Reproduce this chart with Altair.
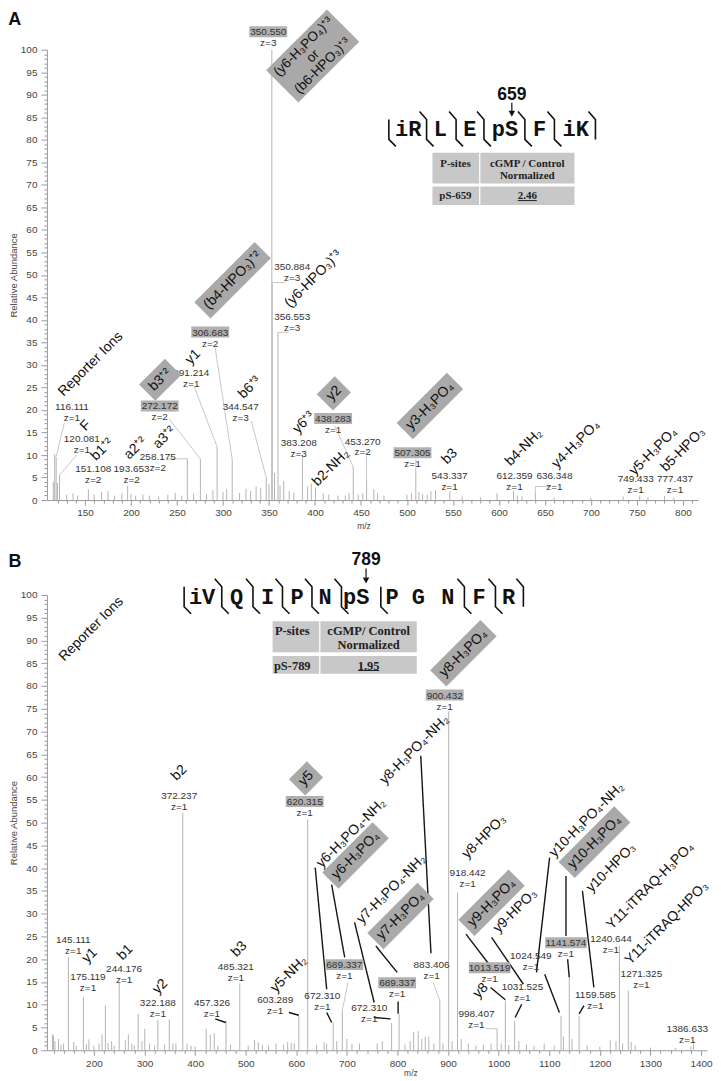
import altair as alt
import pandas as pd

SANS = "Liberation Sans, Arial, Helvetica, sans-serif"
MONO = "Liberation Mono, Courier New, monospace"
SERIF = "Liberation Serif, Times New Roman, serif"
TXT = "#333333"
PEAK = "#b4b4b4"
BOX = "#a9a9a9"
HL = "#b0b0b0"
CELL = "#c8c8c8"
ION_FS = 14
MULTI_FS = 13.5

# ======================= Panel A : iR L E pS F iK =======================
a_domain = [114, 811]
a_peak_mz = [115.5, 117.0, 118.6, 120.0, 122.2, 153.6, 196.3, 261.2, 275.4, 293.6,
             310.0, 347.0, 353.1, 353.45, 359.8, 386.3, 400.5, 441.6, 456.1, 509.6,
             546.6, 615.8, 639.6, 753.0, 780.0]
a_peak_ab = [4.0, 10.2, 9.6, 3.8, 5.6, 2.4, 3.2, 9.2, 9.1, 11.8,
             9.0, 5.0, 100.0, 48.0, 37.2, 10.0, 2.8, 7.3, 4.3, 7.0,
             2.0, 2.0, 1.6, 1.0, 0.9]
a_minor_mz = [130, 137, 142, 160, 168, 175, 182, 190, 200, 205, 213, 220, 230, 240, 248, 255, 268, 282, 289, 300,
              304, 318, 325, 330, 336, 341, 350, 356, 362, 366, 372, 377, 392, 396, 409, 415, 425, 433, 437, 447,
              452, 464, 468, 475, 500, 505, 513, 517, 522, 526, 531, 560, 580, 598, 620, 625, 660, 700, 735, 762, 790]
a_minor_ab = [1.2, 1.5, 1.0, 1.2, 1.8, 2.0, 1.0, 1.5, 1.4, 1.0, 1.2, 1.0, 0.8, 1.2, 1.6, 1.0, 1.5, 1.3, 2.2, 1.8,
              2.4, 1.6, 2.5, 2.0, 3.0, 2.6, 3.5, 6.0, 3.2, 4.2, 2.0, 1.6, 3.0, 3.6, 1.4, 1.2, 1.0, 1.0, 1.6, 1.2,
              1.5, 2.4, 1.6, 1.0, 1.2, 1.5, 1.8, 1.4, 1.2, 2.0, 2.2, 0.8, 0.6, 1.5, 1.0, 0.8, 0.5, 0.5, 0.8, 0.6, 0.5]

a_lbl_val = ["116.111", "120.081", "151.108", "193.653", "258.175", "272.172", "291.214", "306.683",
             "344.547", "350.550", "350.884", "356.553", "383.208", "438.283", "453.270", "507.305",
             "543.337", "612.359", "636.348", "749.433", "777.437"]
a_lbl_z = ["z=1", "z=1", "z=2", "z=2", "z=2", "z=2", "z=1", "z=2", "z=3", "z=3", "z=3", "z=3", "z=3",
           "z=1", "z=2", "z=1", "z=1", "z=1", "z=1", "z=1", "z=1"]
a_lbl_mz = [135.8, 146.5, 158.9, 200.6, 229.1, 231.2, 265.5, 286.1, 319.2, 349.2, 375.2, 375.2, 382.3,
            419.7, 451.8, 506.0, 546.3, 616.9, 660.3, 748.7, 791.4]
a_lbl_ab = [20.7, 13.5, 6.9, 6.9, 9.5, 20.8, 28.2, 37.2, 20.6, 103.9, 51.8, 40.7, 12.6,
            18.0, 13.0, 10.4, 5.4, 5.4, 5.4, 4.6, 4.6]
a_lbl_hl = [0, 0, 0, 0, 0, 1, 0, 1, 0, 1, 0, 0, 0, 1, 0, 1, 0, 0, 0, 0, 0]

a_ion_txt = ["Reporter Ions", "F", "b1⁺²", "a2⁺²", "a3⁺²", "b3⁺²", "y1", "(b4-HPO₃)⁺²", "b6⁺³",
             "(y6-HPO₃)⁺³", "y6⁺³", "y2", "b2-NH₂", "y3-H₃PO₄", "b3", "b4-NH₂", "y4-H₃PO₄",
             "y5-H₃PO₄", "b5-HPO₃"]
a_ion_mz = [156.1, 150.7, 168.5, 204.8, 236.3, 231.6, 267.3, 310.4, 328.9, 398.0, 387.7, 420.5,
            417.3, 524.9, 546.3, 627.1, 683.5, 767.9, 800.0]
a_ion_ab = [30.2, 16.5, 11.2, 11.5, 13.9, 26.7, 31.8, 48.8, 25.0, 49.1, 17.2, 23.7,
            7.2, 20.9, 9.7, 11.7, 12.4, 10.8, 11.2]
a_ion_box = [0, 0, 0, 0, 0, 1, 0, 1, 0, 0, 0, 1, 0, 1, 0, 0, 0, 0, 0]
a_multi_txt = ["(y6-H₃PO₄)⁺³\nor\n(b6-HPO₃)⁺³"]
a_multi_mz = [397.5]
a_multi_ab = [98.6]

a_lg_mz1 = [127.5, 122.4, 239.8, 241.6, 268.3, 291.4, 330.7, 368.1, 371.6, 421.5, 456.1, 656.7, 639.6, 509.6]
a_lg_ab1 = [17.2, 5.6, 9.1, 18.0, 25.4, 33.9, 17.6, 48.3, 37.3, 16.5, 9.8, 3.0, 3.0, 9.0]
a_lg_mz2 = [118.8, 141.0, 261.2, 275.4, 293.6, 310.0, 347.0, 353.4, 359.8, 441.6, 456.1, 639.6, 639.6, 509.6]
a_lg_ab2 = [9.8, 10.0, 9.2, 9.1, 11.8, 9.0, 5.0, 48.3, 37.2, 7.3, 4.3, 3.0, 1.6, 7.0]

a_res = ["iR", "L", "E", "pS", "F", "iK"]
a_res_mz = [501.4, 536.3, 568.3, 606.5, 644.2, 683.5]
a_seq_ab = 82.3
a_sep_mz = [480.3, 521.3, 553.4, 583.7, 628.2, 660.3, 704.9]
a_sep_kind = ["first", "mid", "mid", "mid", "mid", "mid", "last"]
a_site = "659"
a_site_mz = 614.0
a_site_ab = 90.0
a_arrow_ab = [88.2, 85.1]

a_cell_x1 = [527.7, 579.8, 527.7, 579.8]
a_cell_x2 = [578.4, 682.1, 578.4, 682.1]
a_cell_y1 = [77.1, 77.1, 69.6, 69.6]
a_cell_y2 = [70.3, 70.3, 65.5, 65.5]
a_tab_txt = ["P-sites", "cGMP / Control", "Normalized", "pS-659", "2.46"]
a_tab_mz = [552.7, 630.8, 630.8, 552.7, 630.8]
a_tab_ab = [74.7, 74.7, 71.9, 67.6, 67.6]
a_uline = [620.5, 641.1, 66.5]

# ======================= Panel B : iV Q I P N pS P G N F R =======================
b_domain = [117, 1402]
b_peak_mz = [118, 120, 123, 149.5, 179.2, 222.7, 250.0, 268.0, 287.5, 300.5,
             326.4, 349.0, 375.6, 422.0, 437.8, 461.0, 488.3, 517.5, 605.0, 622.5,
             673.0, 691.0, 788.4, 803.3, 832, 841, 855, 883.7, 901.2, 918.7,
             997.0, 1013.3, 1031.5, 1123.4, 1139.6, 1159.0, 1220.6, 1238.7, 1256.3, 1385.0]
b_peak_ab = [3.5, 3.2, 2.0, 20.5, 11.6, 9.8, 15.0, 3.5, 8.0, 4.7,
             6.7, 6.8, 52.2, 4.7, 3.7, 6.5, 14.7, 2.3, 7.5, 50.7,
             6.1, 8.8, 6.0, 8.0, 4.0, 4.2, 3.0, 10.9, 74.4, 34.6,
             4.7, 10.9, 6.5, 7.6, 16.0, 7.6, 2.2, 22.9, 13.1, 1.5]
b_minor_mz = [130, 135, 140, 160, 165, 185, 190, 200, 210, 216,
              228, 235, 240, 262, 275, 280, 295, 310, 320, 340,
              356, 362, 384, 392, 400, 430, 445, 470, 505, 525,
              533, 545, 560, 575, 583, 590, 596, 640, 655, 660,
              680, 700, 710, 725, 760, 770, 815, 825, 848, 862,
              872, 890, 908, 926, 940, 955, 970, 985, 1005, 1020,
              1040, 1055, 1070, 1090, 1110, 1128, 1145, 1175, 1200, 1232,
              1245, 1262, 1270, 1300, 1350, 1380]
b_minor_ab = [2.5, 1.2, 1.5, 1.8, 1.0, 1.4, 2.4, 1.0, 1.5, 3.5,
              1.6, 2.0, 1.0, 2.2, 1.5, 1.0, 2.0, 1.5, 1.0, 1.3,
              1.5, 1.5, 1.5, 1.0, 0.8, 3.4, 1.0, 1.2, 1.0, 1.8,
              1.2, 1.0, 1.5, 1.2, 1.8, 1.6, 1.5, 1.2, 1.8, 1.5,
              2.0, 2.5, 1.4, 1.5, 1.5, 2.0, 1.3, 2.0, 2.5, 3.0,
              1.5, 1.5, 2.0, 2.5, 1.5, 1.0, 1.2, 1.5, 1.5, 1.2,
              2.0, 1.2, 1.0, 1.5, 1.0, 3.0, 2.5, 1.0, 0.8, 2.0,
              1.5, 1.8, 1.0, 0.6, 0.5, 0.8]

b_lbl_val = ["145.111", "175.119", "244.176", "322.188", "372.237", "457.326", "485.321", "603.289",
             "620.315", "672.310", "689.337", "672.310", "689.337", "883.406", "900.432", "918.442",
             "998.407", "1013.519", "1024.549", "1031.525", "1141.574", "1159.585", "1240.644",
             "1271.325", "1386.633"]
b_lbl_z = ["z=1"] * 25
b_lbl_mz = [159.2, 188.3, 259.7, 326.4, 368.5, 433.3, 480.5, 558.3, 616.6, 651.6, 695.0, 744.3, 799.4,
            867.4, 893.4, 938.7, 956.2, 982.1, 1063.7, 1047.0, 1133.1, 1191.4, 1222.0, 1282.2, 1372.8]
b_lbl_ab = [24.3, 16.0, 17.8, 10.3, 55.8, 10.3, 18.2, 11.0, 54.5, 12.0, 18.7, 9.3, 14.7,
            18.7, 77.9, 39.0, 8.0, 18.0, 20.6, 13.8, 23.5, 12.1, 24.5, 16.7, 4.7]
b_lbl_hl = [0, 0, 0, 0, 0, 0, 0, 0, 1, 0, 1, 0, 1, 0, 1, 0, 0, 1, 0, 0, 1, 0, 0, 0, 0]

b_ion_txt = ["Reporter Ions", "y1", "b1", "y2", "b2", "b3", "y5-NH₂", "y5", "y6-H₃PO₄-NH₂", "y6-H₃PO₄",
             "y7-H₃PO₄-NH₂", "y7-H₃PO₄", "y8-H₃PO₄-NH₂", "y8-H₃PO₄", "y8-HPO₃", "y8", "y9-H₃PO₄",
             "y9-HPO₃", "y10-H₃PO₄-NH₂", "y10-H₃PO₄", "y10-HPO₃", "Y11-iTRAQ-H₃PO₄", "Y11-iTRAQ-HPO₃"]
b_ion_mz = [194.8, 191.6, 261.6, 330.8, 368.5, 487.1, 585.5, 619.3, 708.4, 717.1, 788.1, 806.0, 833.4,
            930.3, 971.2, 964.6, 986.0, 1032.6, 1174.0, 1189.5, 1222.0, 1299.7, 1332.0]
b_ion_ab = [92.5, 20.8, 21.5, 14.0, 60.9, 22.2, 16.7, 59.7, 47.7, 42.8, 35.4, 29.5, 66.0,
            87.2, 46.9, 13.1, 32.4, 30.6, 50.6, 45.7, 40.1, 36.1, 27.9]
b_ion_box = [0, 0, 0, 0, 0, 0, 0, 1, 0, 1, 0, 1, 0, 1, 0, 0, 1, 0, 0, 1, 0, 0, 0]

b_lk_mz1 = [846.0, 637.4, 660.1, 669.9, 715.2, 754.0, 757.3, 801.3, 935.4, 984.0,
            986.0, 1045.6, 1100.7, 1091.0, 1133.1, 1136.4, 1165.6, 1159.0, 439.7, 585.5]
b_lk_ab1 = [64.7, 40.1, 8.3, 36.4, 28.1, 7.2, 22.9, 10.7, 25.5, 13.8,
            24.8, 10.1, 42.3, 16.7, 38.3, 20.0, 35.0, 8.0, 6.9, 8.3]
b_lk_mz2 = [866.2, 660.1, 670.0, 695.7, 754.0, 786.5, 799.4, 801.3, 980.9, 1013.2,
            1048.9, 1032.6, 1074.8, 1120.1, 1133.1, 1139.6, 1188.2, 1168.7, 460.5, 605.0]
b_lk_ab2 = [21.3, 13.4, 6.1, 20.4, 10.5, 6.9, 17.1, 8.0, 18.9, 11.1,
            14.5, 7.2, 17.1, 8.3, 25.1, 16.0, 13.8, 9.8, 6.1, 7.7]
b_lg_mz1 = [702.2, 870.7, 974.3]
b_lg_ab1 = [14.9, 14.9, 4.8]
b_lg_mz2 = [691.0, 883.7, 997.0]
b_lg_ab2 = [8.8, 10.9, 4.7]

b_res = ["iV", "Q", "I", "P", "N", "pS", "P", "G", "N", "F", "R"]
b_res_mz = [413.8, 481.9, 543.5, 601.8, 656.8, 718.5, 789.6, 841.5, 899.8, 961.5, 1019.8]
b_seq_ab = 99.6
b_sep_mz = [378.3, 452.7, 514.4, 572.7, 631.0, 689.3, 767.1, 932.3, 993.7, 1048.9]
b_sep_kind = ["first", "mid", "mid", "mid", "mid", "mid", "first", "mid", "mid", "last"]
b_site = "789"
b_site_mz = 737.9
b_site_ab = 107.7
b_arrow_ab = [105.8, 102.5]

b_cell_x1 = [553.2, 647.7, 553.2, 647.7]
b_cell_x2 = [645.2, 838.2, 645.2, 838.2]
b_cell_y1 = [94.2, 94.2, 86.6, 86.6]
b_cell_y2 = [87.4, 87.4, 82.7, 82.7]
b_tab_txt = ["P-sites", "cGMP/ Control", "Normalized", "pS-789", "1.95"]
b_tab_mz = [592.0, 743.0, 743.0, 592.0, 743.0]
b_tab_ab = [92.0, 92.0, 89.0, 84.4, 84.4]
b_uline = [722.0, 764.0, 83.4]

# ----------------------------------------------------------------------
SUBSUP = set("₀₁₂₃₄₅₆₇₈₉⁺⁰¹²³⁴⁵⁶⁷⁸⁹")


def tw(s, fs):
    w = 0.0
    for ch in s:
        if ch in SUBSUP:
            w += 0.40
        elif ch in "ijlI.":
            w += 0.24
        elif ch in "()-/ rtf":
            w += 0.31
        elif ch in "mMW":
            w += 0.86
        elif ch in "wGOQ":
            w += 0.76
        elif ch.isupper():
            w += 0.70
        else:
            w += 0.55
    return w * fs


def rect_path(w, h):
    return f"M{-w/2:.1f},{-h/2:.1f}L{w/2:.1f},{-h/2:.1f}L{w/2:.1f},{h/2:.1f}L{-w/2:.1f},{h/2:.1f}Z"


SEP = {"first": "M0,-10L0,10L7,17",
       "mid": "M-7,-18L0,-10L0,10L7,17",
       "last": "M-7,-18L0,-10L0,10"}


def panel(P):
    xs = alt.Scale(domain=P["domain"], nice=False, zero=False)
    ys = alt.Scale(domain=[0, 100], nice=False)
    xl = P["xlab"]
    x_axis = alt.Axis(
        title="m/z", values=P["xticks"], format="d",
        labelExpr=f"datum.value % {xl} === 0 ? datum.label : ''",
        tickSize={"condition": {"test": f"datum.value % {xl} === 0", "value": 5}, "value": 3},
        labelPadding=P["xlabpad"], titlePadding=P["xtitlepad"], titleX=P["titlex"],
        titleFontSize=8.5, labelFlush=False, labelOverlap=False, grid=False)
    y_axis = alt.Axis(
        title="Relative Abundance", values=list(range(0, 101)),
        labelExpr="datum.value % 5 === 0 ? datum.label : ''",
        tickSize={"condition": {"test": "datum.value % 5 === 0", "value": 6}, "value": 3},
        labelPadding=4, titlePadding=2, titleFontSize=9.5, labelOverlap=False, grid=False)

    def X(f="mz"):
        return alt.X(f + ":Q", scale=xs, axis=x_axis, title="m/z")

    def Y(f="ab"):
        return alt.Y(f + ":Q", scale=ys, axis=y_axis, title="Relative Abundance")

    def rules(m1, a1, m2, a2, color, width):
        df = pd.DataFrame({"mz": m1, "ab": a1, "mz2": m2, "ab2": a2})
        return alt.Chart(df).mark_rule(color=color, strokeWidth=width).encode(
            x=X(), y=Y(), x2=alt.X2("mz2"), y2=alt.Y2("ab2"))

    peaks = pd.DataFrame({"mz": P["peak_mz"] + P["minor_mz"], "ab": P["peak_ab"] + P["minor_ab"]})
    peaks["base"] = 0.0
    layers = [alt.Chart(peaks).mark_rule(color=PEAK, strokeWidth=1).encode(
        x=X(), y=Y(), y2=alt.Y2("base"))]

    # leader lines
    if P.get("lg"):
        layers.append(rules(*P["lg"], "#b9b9b9", 0.8))
    if P.get("lk"):
        layers.append(rules(*P["lk"], "#151515", 1.4))

    # m/z value labels with highlights
    lab = pd.DataFrame({"mz": P["lbl_mz"], "ab": P["lbl_ab"], "val": P["lbl_val"],
                        "z": P["lbl_z"], "hl": P["lbl_hl"]})
    layers.append(alt.Chart(lab).transform_filter("datum.hl == 1")
                  .transform_calculate(w="3.7*length(datum.val) + 12")
                  .mark_bar(color=HL, orient="vertical", yOffset=-6, y2Offset=5)
                  .encode(x=X(), y=Y(), y2=alt.Y2("ab"),
                          size=alt.Size("w:Q", scale=None, legend=None)))
    layers.append(alt.Chart(lab).mark_text(font=SANS, fontSize=10, color=TXT)
                  .encode(x=X(), y=Y(), text="val:N"))
    layers.append(alt.Chart(lab).mark_text(font=SANS, fontSize=10, color=TXT, dy=11)
                  .encode(x=X(), y=Y(), text="z:N"))

    # ion names, boxed or plain
    ions = pd.DataFrame({"mz": P["ion_mz"], "ab": P["ion_ab"], "t": P["ion_txt"], "box": P["ion_box"]})
    ions["path"] = [rect_path(tw(t, ION_FS) + 10, 23) for t in ions["t"]]
    layers.append(alt.Chart(ions[ions["box"] == 1]).mark_point(
        filled=True, color=BOX, opacity=1, size=4, angle=315, strokeWidth=0).encode(
        x=X(), y=Y(), shape=alt.Shape("path:N", scale=None, legend=None)))
    if P.get("multi"):
        mt, mm, ma = P["multi"]
        lines = mt[0].split("\n")
        mdf = pd.DataFrame({"mz": mm, "ab": ma, "t": mt})
        mdf["path"] = [rect_path(max(tw(s, MULTI_FS) for s in lines) + 8, len(lines) * MULTI_FS + 5)]
        layers.append(alt.Chart(mdf).mark_point(
            filled=True, color=BOX, opacity=1, size=4, angle=315, strokeWidth=0).encode(
            x=X(), y=Y(), shape=alt.Shape("path:N", scale=None, legend=None)))
        layers.append(alt.Chart(mdf).mark_text(
            font=SANS, fontSize=MULTI_FS, angle=315, color="#111", lineBreak="\n",
            lineHeight=MULTI_FS, baseline="top", dy=-(MULTI_FS + 2 * MULTI_FS) / 2).encode(
            x=X(), y=Y(), text="t:N"))
    layers.append(alt.Chart(ions).mark_text(font=SANS, fontSize=ION_FS, angle=315, color="#111")
                  .encode(x=X(), y=Y(), text="t:N"))

    # table
    cells = pd.DataFrame({"mz": P["cx1"], "mz2": P["cx2"], "ab": P["cy1"], "ab2": P["cy2"]})
    layers.append(alt.Chart(cells).mark_rect(color=CELL).encode(
        x=X(), x2=alt.X2("mz2"), y=Y(), y2=alt.Y2("ab2")))
    tt = pd.DataFrame({"mz": P["tmz"], "ab": P["tab"], "t": P["ttxt"]})
    layers.append(alt.Chart(tt).mark_text(font=SERIF, fontWeight="bold", fontSize=P["tfs"], color="#222")
                  .encode(x=X(), y=Y(), text="t:N"))
    u = P["uline"]
    layers.append(rules([u[0]], [u[2]], [u[1]], [u[2]], "#222", 1))

    # peptide sequence
    seq = pd.DataFrame({"mz": P["res_mz"], "ab": [P["seq_ab"]] * len(P["res"]), "t": P["res"]})
    layers.append(alt.Chart(seq).mark_text(font=MONO, fontSize=22, fontWeight="bold", color="#111")
                  .encode(x=X(), y=Y(), text="t:N"))
    sep = pd.DataFrame({"mz": P["sep_mz"], "ab": [P["seq_ab"]] * len(P["sep_mz"]),
                        "path": [SEP[k] for k in P["sep_kind"]]})
    layers.append(alt.Chart(sep).mark_point(filled=False, color="#111", size=4, strokeWidth=1.6, opacity=1)
                  .encode(x=X(), y=Y(), shape=alt.Shape("path:N", scale=None, legend=None)))

    # phospho site number and arrow
    site = pd.DataFrame({"mz": [P["site_mz"]], "ab": [P["site_ab"]], "t": [P["site"]]})
    layers.append(alt.Chart(site).mark_text(font=SANS, fontSize=17.5, fontWeight="bold", color="#111")
                  .encode(x=X(), y=Y(), text="t:N"))
    a1, a2 = P["arrow"]
    layers.append(rules([P["site_mz"]], [a1], [P["site_mz"]], [a2 + (a1 - a2) * 0.4], "#111", 1.2))
    head = pd.DataFrame({"mz": [P["site_mz"]], "ab": [a2], "path": ["M-3.2,-6L3.2,-6L0,0Z"]})
    layers.append(alt.Chart(head).mark_point(filled=True, color="#111", size=4, opacity=1, strokeWidth=0)
                  .encode(x=X(), y=Y(), shape=alt.Shape("path:N", scale=None, legend=None)))

    # panel letter
    let = pd.DataFrame({"mz": [P["letter_mz"]], "ab": [P["letter_ab"]], "t": [P["letter"]]})
    layers.append(alt.Chart(let).mark_text(font=SANS, fontSize=18, fontWeight="bold", color="#111",
                                           align="left", baseline="alphabetic")
                  .encode(x=X(), y=Y(), text="t:N"))

    return alt.layer(*layers).properties(width=P["w"], height=P["h"])


PA = dict(domain=a_domain, peak_mz=a_peak_mz, peak_ab=a_peak_ab, minor_mz=a_minor_mz, minor_ab=a_minor_ab,
          xticks=list(range(120, 811, 10)), xlab=50, xlabpad=2, xtitlepad=4, titlex=317,
          lbl_mz=a_lbl_mz, lbl_ab=a_lbl_ab, lbl_val=a_lbl_val, lbl_z=a_lbl_z, lbl_hl=a_lbl_hl,
          ion_mz=a_ion_mz, ion_ab=a_ion_ab, ion_txt=a_ion_txt, ion_box=a_ion_box,
          multi=(a_multi_txt, a_multi_mz, a_multi_ab),
          lg=(a_lg_mz1, a_lg_ab1, a_lg_mz2, a_lg_ab2), lk=None,
          cx1=a_cell_x1, cx2=a_cell_x2, cy1=a_cell_y1, cy2=a_cell_y2,
          tmz=a_tab_mz, tab=a_tab_ab, ttxt=a_tab_txt, tfs=11, uline=a_uline,
          res=a_res, res_mz=a_res_mz, seq_ab=a_seq_ab, sep_mz=a_sep_mz, sep_kind=a_sep_kind,
          site=a_site, site_mz=a_site_mz, site_ab=a_site_ab, arrow=a_arrow_ab,
          letter="A", letter_mz=66.6, letter_ab=105.5, w=652, h=451)

PB = dict(domain=b_domain, peak_mz=b_peak_mz, peak_ab=b_peak_ab, minor_mz=b_minor_mz, minor_ab=b_minor_ab,
          xticks=list(range(120, 1401, 20)), xlab=100, xlabpad=3, xtitlepad=0, titlex=364,
          lbl_mz=b_lbl_mz, lbl_ab=b_lbl_ab, lbl_val=b_lbl_val, lbl_z=b_lbl_z, lbl_hl=b_lbl_hl,
          ion_mz=b_ion_mz, ion_ab=b_ion_ab, ion_txt=b_ion_txt, ion_box=b_ion_box,
          multi=None,
          lg=(b_lg_mz1, b_lg_ab1, b_lg_mz2, b_lg_ab2), lk=(b_lk_mz1, b_lk_ab1, b_lk_mz2, b_lk_ab2),
          cx1=b_cell_x1, cx2=b_cell_x2, cy1=b_cell_y1, cy2=b_cell_y2,
          tmz=b_tab_mz, tab=b_tab_ab, ttxt=b_tab_txt, tfs=12.5, uline=b_uline,
          res=b_res, res_mz=b_res_mz, seq_ab=b_seq_ab, sep_mz=b_sep_mz, sep_kind=b_sep_kind,
          site=b_site, site_mz=b_site_mz, site_ab=b_site_ab, arrow=b_arrow_ab,
          letter="B", letter_mz=30.9, letter_ab=106.2, w=661, h=456)

chart = alt.vconcat(panel(PA), panel(PB), spacing=20).properties(
    padding={"left": 0, "top": 0, "right": 0, "bottom": 0}
).configure_view(strokeWidth=0).configure_axis(
    domainColor="#9a9a9a", tickColor="#9a9a9a", labelColor="#444444", titleColor="#444444",
    labelFont=SANS, titleFont=SANS, labelFontSize=10, titleFontWeight="normal"
)

chart.save("out.html", embed_options={"renderer": "svg", "actions": False})
